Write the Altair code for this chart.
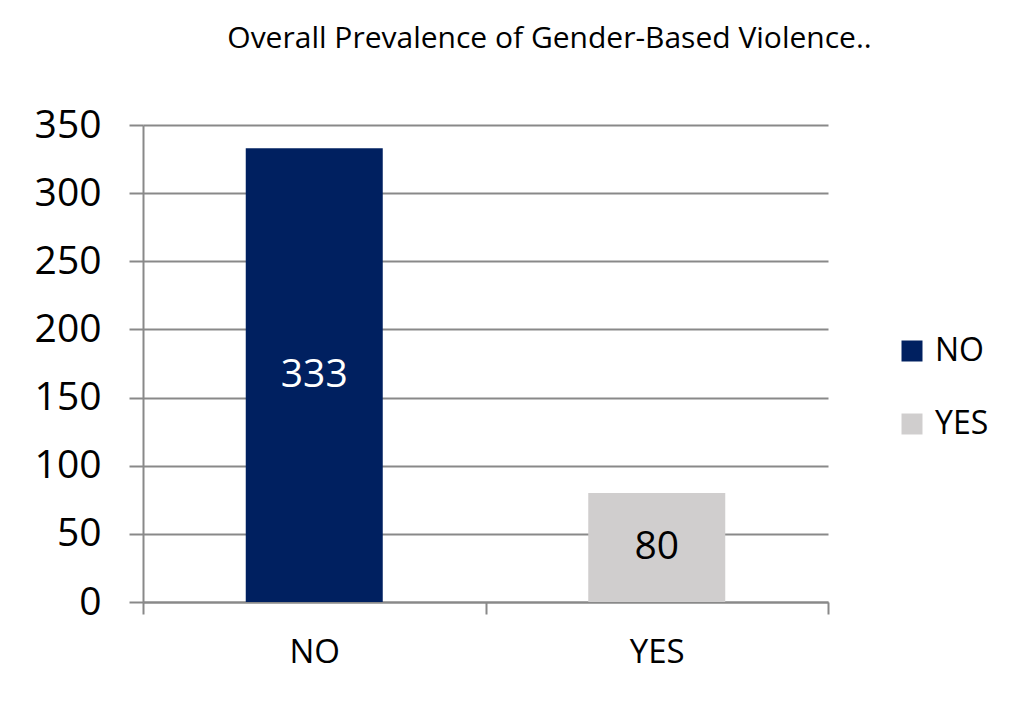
import altair as alt
import pandas as pd

categories = ["NO", "YES"]
values = [333, 80]
bar_colors = ["#002060", "#D0CECE"]
label_colors = ["#FFFFFF", "#000000"]
y_ticks = [0, 50, 100, 150, 200, 250, 300, 350]
title_text = "Overall Prevalence of Gender-Based Violence.."

FONT = "Open Sans"
GRID = "#898989"

df = pd.DataFrame({"cat": categories, "val": values, "lc": label_colors})

base = alt.Chart(df)

x_enc = alt.X(
    "cat:N",
    sort=categories,
    scale=alt.Scale(paddingInner=0, paddingOuter=0),
    axis=alt.Axis(
        title=None, labelAngle=0, tickBand="extent", ticks=True, tickSize=12,
        tickColor=GRID, tickWidth=2, domainColor=GRID, domainWidth=2,
        labelFont=FONT, labelFontSize=33, labelColor="#000000", labelPadding=22,
    ),
)

bars = base.mark_bar(width={"band": 0.4}).encode(
    x=x_enc,
    y=alt.Y(
        "val:Q",
        scale=alt.Scale(domain=[0, 350], nice=False),
        axis=alt.Axis(
            title=None, values=y_ticks, grid=True, gridColor=GRID, gridWidth=2,
            tickSize=14, tickColor=GRID, tickWidth=2, domainColor=GRID, domainWidth=2,
            labelFont=FONT, labelFontSize=39, labelColor="#000000", labelPadding=28,
        ),
    ),
    color=alt.Color(
        "cat:N",
        scale=alt.Scale(domain=categories, range=bar_colors),
        legend=alt.Legend(
            title=None, orient="none", legendX=753, legendY=210,
            symbolType="square", symbolSize=441, symbolStrokeWidth=0,
            labelFont=FONT, labelFontSize=32, labelColor="#000000",
            labelOffset=7, rowPadding=41, padding=0,
        ),
    ),
)

text = base.transform_calculate(mid="datum.val / 2").mark_text(
    font=FONT, fontSize=39, baseline="middle", align="center"
).encode(
    x=alt.X("cat:N", sort=categories),
    y=alt.Y("mid:Q"),
    text=alt.Text("val:Q"),
    fill=alt.Fill("lc:N", scale=None),
)

chart = (
    alt.layer(bars, text)
    .properties(
        width=685,
        height=477,
        padding={"left": 135, "top": 117, "right": 194, "bottom": 92},
        autosize=alt.AutoSizeParams(type="none"),
        title=alt.TitleParams(
            title_text, font=FONT, fontSize=30, fontWeight="normal", color="#000000",
            anchor="middle", dx=64, offset=52,
        ),
    )
    .configure_view(stroke=None)
)

chart.save("out.html", embed_options={"renderer": "svg", "actions": False})
